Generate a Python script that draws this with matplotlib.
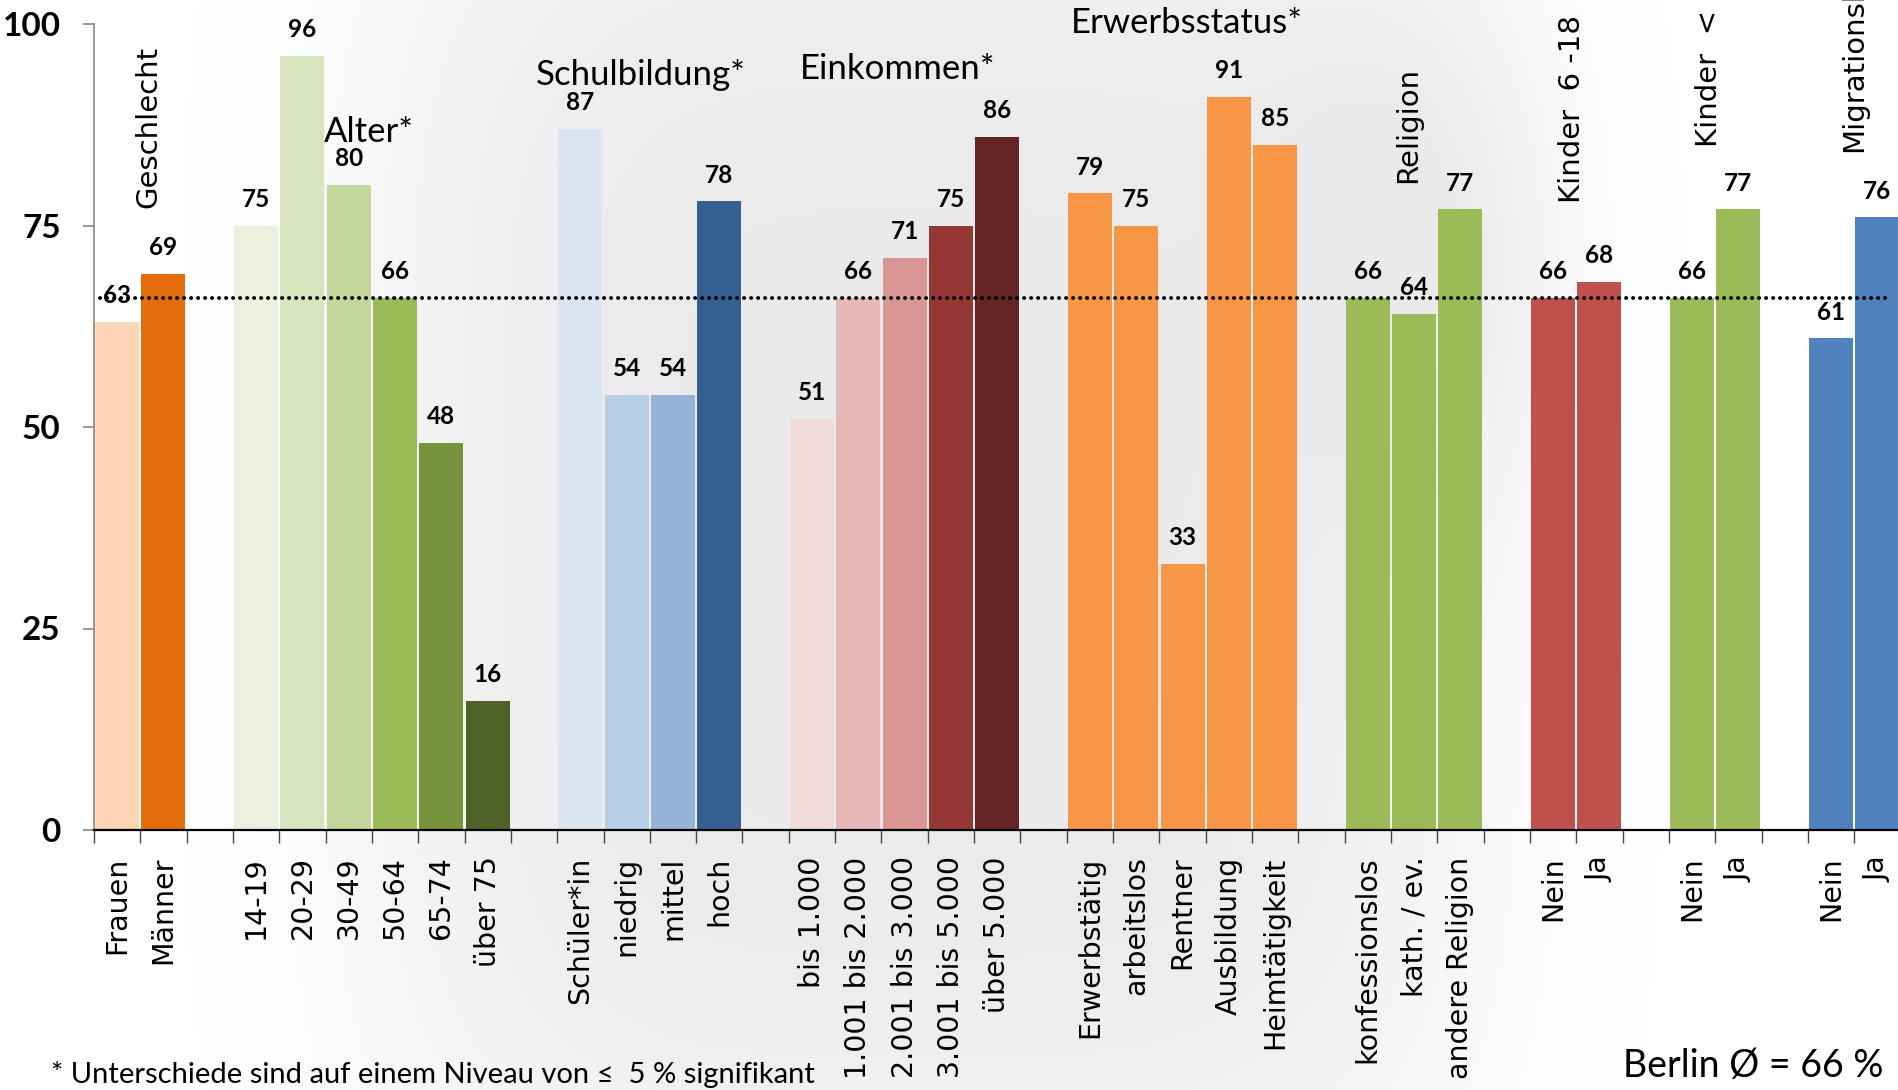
import numpy as np
import matplotlib
matplotlib.use("Agg")
import matplotlib.pyplot as plt

# ---------------- data ----------------
group_titles = ["Geschlecht", "Alter*", "Schulbildung*", "Einkommen*",
                "Erwerbsstatus*", "Religion", "Kinder  6 -18", "Kinder  < 6",
                "Migrationshintergrund"]

geschlecht_labels = ["Frauen", "Männer"]
geschlecht_values = [63, 69]
alter_labels = ["14-19", "20-29", "30-49", "50-64", "65-74", "über 75"]
alter_values = [75, 96, 80, 66, 48, 16]
schul_labels = ["Schüler*in", "niedrig", "mittel", "hoch"]
schul_values = [87, 54, 54, 78]
eink_labels = ["bis 1.000", "1.001 bis 2.000", "2.001 bis 3.000",
               "3.001 bis 5.000", "über 5.000"]
eink_values = [51, 66, 71, 75, 86]
erwerb_labels = ["Erwerbstätig", "arbeitslos", "Rentner", "Ausbildung",
                 "Heimtätigkeit"]
erwerb_values = [79, 75, 33, 91, 85]
religion_labels = ["konfessionslos", "kath. / ev.", "andere Religion"]
religion_values = [66, 64, 77]
kinder618_labels = ["Nein", "Ja"]
kinder618_values = [66, 68]
kinder6_labels = ["Nein", "Ja"]
kinder6_values = [66, 77]
migration_labels = ["Nein", "Ja"]
migration_values = [61, 76]

berlin_avg = 66

geschlecht_colors = ["#FCD5B5", "#E46C0A"]
alter_colors = ["#EBF1DE", "#D7E4BD", "#C3D69B", "#9BBB59", "#77933C", "#4F6228"]
schul_colors = ["#DCE6F2", "#B9CDE5", "#95B3D7", "#376092"]
eink_colors = ["#F2DCDB", "#E6B9B8", "#D99694", "#953735", "#632523"]
erwerb_colors = ["#F79646"] * 5
religion_colors = ["#9BBB59"] * 3
kinder618_colors = ["#C0504D"] * 2
kinder6_colors = ["#9BBB59"] * 2
migration_colors = ["#4F81BD"] * 2

all_labels = [geschlecht_labels, alter_labels, schul_labels, eink_labels,
              erwerb_labels, religion_labels, kinder618_labels,
              kinder6_labels, migration_labels]
all_values = [geschlecht_values, alter_values, schul_values, eink_values,
              erwerb_values, religion_values, kinder618_values,
              kinder6_values, migration_values]
all_colors = [geschlecht_colors, alter_colors, schul_colors, eink_colors,
              erwerb_colors, religion_colors, kinder618_colors,
              kinder6_colors, migration_colors]

# ---------------- figure ----------------
W, H = 1899, 1090
fig = plt.figure(figsize=(W / 100, H / 100), dpi=100)

# faint background picture (light grey blob)
bg = fig.add_axes([0, 0, 1, 1], zorder=-5)
yy, xx = np.mgrid[0:H:4, 0:W:4]
blob = np.exp(-(((xx - 920) / 560.0) ** 4 + ((yy - 520) / 720.0) ** 4))
blob2 = np.exp(-(((xx - 1420) / 140.0) ** 2 + ((yy - 250) / 260.0) ** 2))
field = 1.0 - 0.085 * np.clip(blob + 0.6 * blob2, 0, 1)
bg.imshow(field, cmap="gray", vmin=0, vmax=1, extent=[0, W, H, 0],
          aspect="auto", interpolation="bilinear")
bg.axis("off")

ax = fig.add_axes([94 / W, 1 - 830 / H, (W - 94) / W, (830 - 24) / H])
ax.set_facecolor("none")

xs, vals, cols, labs = [], [], [], []
pos = 0
for gl, gv, gc in zip(all_labels, all_values, all_colors):
    for l, v, c in zip(gl, gv, gc):
        xs.append(pos); vals.append(v); cols.append(c); labs.append(l)
        pos += 1
    pos += 1
n_slots = pos - 1

ax.bar(xs, vals, width=0.95, color=cols, zorder=2)

# axes styling
for s in ["top", "right"]:
    ax.spines[s].set_visible(False)
ax.spines["left"].set_color("#868686")
ax.spines["left"].set_linewidth(1.2)
ax.spines["bottom"].set_color("black")
ax.spines["bottom"].set_linewidth(1.6)

ax.set_yticks([0, 25, 50, 75, 100])
ax.tick_params(axis="y", length=8, width=1.2, color="#868686", pad=16,
               labelsize=24)
for t in ax.get_yticklabels():
    t.set_fontweight("bold")
    t.set_family(["Lato", "DejaVu Sans"])

ax.set_xticks(xs)
ax.set_xticklabels(labs, rotation=90, fontsize=20.5, family="DejaVu Sans")
ax.tick_params(axis="x", which="major", length=0, pad=19)
ax.set_xticks(np.arange(-0.5, n_slots, 1.0), minor=True)
ax.tick_params(axis="x", which="minor", length=9, width=1.0, color="#444444",
               direction="out")

slot = 46.32
ax.set_xlim(-0.5, -0.5 + (W - 94) / slot)
ax.set_ylim(0, 100)

# value labels
for x, v in zip(xs, vals):
    ax.annotate(str(v), (x, v), xytext=(0, 13.5), textcoords="offset points",
                ha="center", va="baseline", fontsize=17.5, fontweight="bold",
                family=["Lato", "DejaVu Sans"], color="black", zorder=4,
                annotation_clip=False)

# average line
x0, x1 = ax.get_xlim()
ax.axhline(berlin_avg, xmin=(-0.37 - x0) / (x1 - x0), xmax=(38.26 - x0) / (x1 - x0),
           color="black", linewidth=2.8, linestyle=(0, (0.05, 1.75)),
           dash_capstyle="round", zorder=5)

# group titles: horizontal ones
horiz = {"Alter*": (5.44, 85.4), "Schulbildung*": (11.31, 92.4),
         "Einkommen*": (16.86, 93.2), "Erwerbsstatus*": (23.1, 98.9)}
for name, (gx, gy) in horiz.items():
    ax.text(gx, gy, name, ha="center", va="baseline", fontsize=25,
            family=["Lato", "DejaVu Sans"], clip_on=False, zorder=6)

# vertical ones
vert = {"Geschlecht": (0.838, 77.2), "Religion": (28.04, 80.3),
        "Kinder  6 -18": (31.59, 77.8), "Kinder  < 6": (34.54, 84.7),
        "Migrationshintergrund": (37.67, 84.1)}
for name, (gx, gy) in vert.items():
    ax.text(gx, gy, name, rotation=90, rotation_mode="anchor", ha="left",
            va="baseline", fontsize=21, family="DejaVu Sans", clip_on=False,
            zorder=6)

fig.text(51 / W, 1 - 1083 / H,
         "* Unterschiede sind auf einem Niveau von \u2264  5 % signifikant",
         ha="left", va="baseline", fontsize=21, family=["Lato", "DejaVu Sans"])
fig.text(1883 / W, 1 - 1077 / H, "Berlin \u00d8 = 66 %", ha="right",
         va="baseline", fontsize=27, family=["Lato", "DejaVu Sans"])

fig.savefig("out.png", dpi=100)
